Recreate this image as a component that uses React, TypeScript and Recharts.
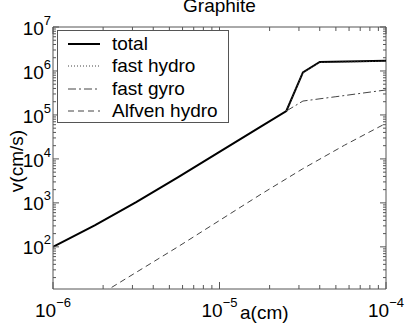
import { LineChart, Line, XAxis, YAxis, Legend } from 'recharts';

// grain radius a (cm) vs velocity v (cm/s)
const totalA = [1e-6, 1.78e-6, 3.16e-6, 5.62e-6, 1e-5, 1.78e-5, 2.52e-5, 3.17e-5, 4e-5, 1e-4];
const totalV = [100, 309, 1035, 3785, 14390, 54700, 1.23e5, 9.3e5, 1.6e6, 1.71e6];

const fastHydroA = [2.52e-5, 3.17e-5, 4e-5, 1e-4];
const fastHydroV = [1.23e5, 9.2e5, 1.56e6, 1.67e6];

const fastGyroA = [2.52e-5, 3.17e-5, 5e-5, 1e-4];
const fastGyroV = [1.23e5, 2.07e5, 2.6e5, 3.7e5];

const alfvenA = [2e-6, 3.16e-6, 5.62e-6, 1e-5, 1.78e-5, 3.16e-5, 5.62e-5, 1e-4];
const alfvenV = [9.1, 26.3, 100, 398, 1585, 5960, 20400, 64600];

const xDecades = [-6, -5, -4];
const yDecades = [1, 2, 3, 4, 5, 6, 7];

const xTicks = xDecades.flatMap((d) =>
  d === -4 ? [1e-4] : [1, 2, 3, 4, 5, 6, 7, 8, 9].map((m) => m * Math.pow(10, d)),
);
const yTicks = yDecades
  .flatMap((d) => (d === 7 ? [1e7] : [1, 2, 3, 4, 5, 6, 7, 8, 9].map((m) => m * Math.pow(10, d))))
  .filter((v) => v >= 11);

const W = 407;
const H = 325;
const M = { top: 27, right: 21, left: 0, bottom: 0 };
const YW = 53;
const XH = 36;
const PL = M.left + YW;
const PR = W - M.right;
const PT = M.top;
const PB = H - M.bottom - XH;

const FONT = '"Liberation Sans", Arial, sans-serif';
const AXIS = '#555';

const zip = (a: number[], v: number[]) => a.map((x, i) => ({ a: x, v: v[i] }));

const series = [
  { name: 'total', data: zip(totalA, totalV), color: '#000', width: 2, dash: undefined },
  { name: 'fast hydro', data: zip(fastHydroA, fastHydroV), color: '#444', width: 1, dash: '1 2' },
  { name: 'fast gyro', data: zip(fastGyroA, fastGyroV), color: '#444', width: 1, dash: '8 3 2 3' },
  { name: 'Alfven hydro', data: zip(alfvenA, alfvenV), color: '#444', width: 1, dash: '6 4' },
];

const isMajor = (v: number) => {
  const l = Math.log10(v);
  return Math.abs(l - Math.round(l)) < 1e-9;
};
const expText = (v: number) => {
  const e = Math.round(Math.log10(v));
  return e < 0 ? `\u2212${-e}` : `${e}`;
};

function XTick({ x, payload }: any) {
  const major = isMajor(payload.value);
  const len = major ? 7 : 4;
  return (
    <g>
      <line x1={x} x2={x} y1={PB} y2={PB - len} stroke={AXIS} />
      <line x1={x} x2={x} y1={PT} y2={PT + len} stroke={AXIS} />
      {major && (
        <text x={x} y={PB + 27.7} textAnchor="middle" fontSize={19} fontFamily={FONT} fill="#000">
          <tspan>10</tspan>
          <tspan dy={-10} fontSize={13}>{expText(payload.value)}</tspan>
        </text>
      )}
    </g>
  );
}

function YTick({ y, payload }: any) {
  const major = isMajor(payload.value);
  const len = major ? 6 : 3;
  return (
    <g>
      <line x1={PL} x2={PL + len} y1={y} y2={y} stroke={AXIS} />
      <line x1={PR} x2={PR - len} y1={y} y2={y} stroke={AXIS} />
      {major && (
        <text x={PL - 2} y={y + 7.6} textAnchor="end" fontSize={19} fontFamily={FONT} fill="#000">
          <tspan>10</tspan>
          <tspan dy={-10} fontSize={13}>{expText(payload.value)}</tspan>
        </text>
      )}
    </g>
  );
}

function LegendBox() {
  return (
    <div
      style={{
        width: 170,
        height: 91,
        border: `1px solid ${AXIS}`,
        background: '#fff',
        fontFamily: FONT,
        fontSize: 19,
        position: 'relative',
      }}
    >
      {series.map((s, i) => (
        <div
          key={s.name}
          style={{ position: 'absolute', left: 0, top: 1.6 + i * 22.6, height: 22, display: 'flex', alignItems: 'center' }}
        >
          <svg width={54} height={22}>
            <line x1={10} x2={42} y1={11} y2={11} stroke={s.color} strokeWidth={s.width} strokeDasharray={s.dash} />
          </svg>
          <span style={{ lineHeight: '22px', color: '#000' }}>{s.name}</span>
        </div>
      ))}
    </div>
  );
}

export default function App() {
  return (
    <div style={{ position: 'absolute', left: 0, top: 0, width: W, height: H, background: '#fff' }}>
      <LineChart width={W} height={H} margin={M}>
        <XAxis
          dataKey="a"
          type="number"
          scale="log"
          domain={[1e-6, 1e-4]}
          ticks={xTicks}
          interval={0}
          allowDataOverflow
          height={XH}
          axisLine={{ stroke: AXIS }}
          tickLine={false}
          tick={<XTick />}
        />
        <YAxis
          type="number"
          scale="log"
          domain={[11, 1e7]}
          ticks={yTicks}
          interval={0}
          allowDataOverflow
          width={YW}
          axisLine={{ stroke: AXIS }}
          tickLine={false}
          tick={<YTick />}
        />
        {series.map((s) => (
          <Line
            key={s.name}
            data={s.data}
            dataKey="v"
            name={s.name}
            type="linear"
            stroke={s.color}
            strokeWidth={s.width}
            strokeDasharray={s.dash}
            dot={false}
            activeDot={false}
            isAnimationActive={false}
          />
        ))}
        <Legend
          layout="vertical"
          align="center"
          verticalAlign="middle"
          wrapperStyle={{ left: 57, top: 30, width: 'auto' }}
          content={() => <LegendBox />}
        />
        <line x1={PL} x2={PR} y1={PT} y2={PT} stroke={AXIS} />
        <line x1={PR} x2={PR} y1={PT} y2={PB} stroke={AXIS} />
        <text x={(PL + PR) / 2} y={12} textAnchor="middle" fontSize={19} fontFamily={FONT}>
          Graphite
        </text>
        <text x={240} y={318.5} fontSize={19} fontFamily={FONT}>
          a(cm)
        </text>
        <text
          x={22.5}
          y={161}
          textAnchor="middle"
          fontSize={19}
          fontFamily={FONT}
          transform="rotate(-90, 22.5, 161)"
          dy={0}
        >
          v(cm/s)
        </text>
      </LineChart>
    </div>
  );
}
